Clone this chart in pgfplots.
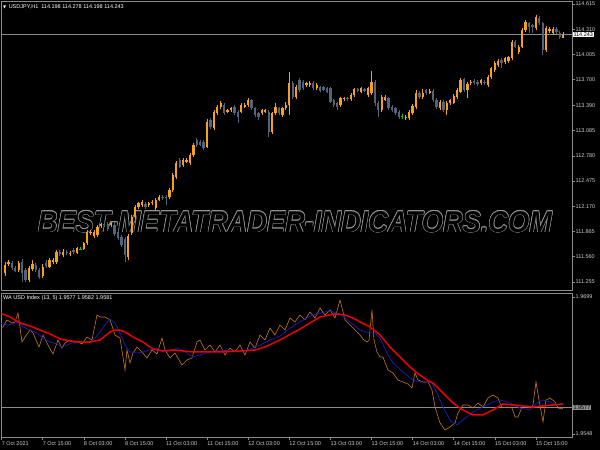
\documentclass[border=0pt]{standalone}
\usepackage{pgfplots}
\pgfplotsset{compat=1.18}
\usepackage{pgfplotstable}
\usepackage{graphicx}
\usepackage{fontspec}
\setmainfont{Liberation Sans}
\newfontfamily\djv{DejaVu Sans}

\definecolor{upc}{RGB}{245,160,30}
\definecolor{dnc}{RGB}{82,100,122}
\definecolor{dojic}{RGB}{0,200,0}
\definecolor{axgray}{RGB}{140,140,140}
\definecolor{txt}{RGB}{205,205,205}
\definecolor{wm}{RGB}{150,150,150}
\definecolor{wao}{RGB}{200,120,30}
\definecolor{wab}{RGB}{30,30,190}
\definecolor{war}{RGB}{235,0,0}

\newcommand{\mt}{\fontsize{5.5}{6}\selectfont}
\newcommand{\wmtext}{\resizebox{514pt}{21pt}{\fontsize{25}{25}\selectfont\bfseries\itshape BEST-METATRADER-INDICATORS.COM}}

% USDJPY H1 candles: bar index, open, high, low, close
\pgfplotstableread{
i o h l c
0 111.359 111.495 111.326 111.459
1 111.468 111.520 111.447 111.492
4 111.399 111.508 111.375 111.480
7 111.278 111.447 111.254 111.419
8 111.407 111.520 111.387 111.471
11 111.326 111.471 111.302 111.439
13 111.439 111.544 111.423 111.520
14 111.495 111.544 111.471 111.520
15 111.492 111.641 111.471 111.620
17 111.580 111.647 111.556 111.620
19 111.589 111.628 111.568 111.608
21 111.608 111.677 111.592 111.661
23 111.653 111.737 111.635 111.722
24 111.722 111.882 111.701 111.862
25 111.842 111.888 111.822 111.862
26 111.810 111.888 111.786 111.862
27 111.822 111.943 111.798 111.922
28 111.925 111.967 111.907 111.949
31 111.943 111.985 111.919 111.967
36 111.556 111.834 111.520 111.810
37 111.846 112.064 111.822 112.040
38 112.040 112.185 112.015 112.160
39 112.160 112.221 112.136 112.203
40 112.185 112.245 112.160 112.221
42 112.185 112.227 112.166 112.205
43 112.205 112.245 112.185 112.224
44 112.145 112.269 112.124 112.245
45 112.245 112.305 112.227 112.285
48 112.285 112.390 112.263 112.366
49 112.366 112.571 112.342 112.547
50 112.527 112.717 112.505 112.689
52 112.668 112.753 112.644 112.729
53 112.708 112.747 112.692 112.729
54 112.689 112.813 112.668 112.789
55 112.789 112.934 112.765 112.910
59 112.889 113.224 112.868 113.192
61 113.116 113.339 113.091 113.313
62 113.293 113.394 113.273 113.373
63 113.373 113.436 113.351 113.414
65 113.313 113.351 113.297 113.333
66 113.333 113.369 113.315 113.354
69 113.313 113.412 113.291 113.394
70 113.373 113.412 113.357 113.394
71 113.394 113.482 113.369 113.454
75 113.293 113.351 113.273 113.333
76 113.313 113.351 113.297 113.333
78 113.071 113.315 113.049 113.293
79 113.293 113.421 113.273 113.373
81 113.273 113.375 113.249 113.354
82 113.354 113.424 113.333 113.394
83 113.394 113.796 113.273 113.656
85 113.494 113.635 113.472 113.615
88 113.635 113.672 113.617 113.656
89 113.635 113.684 113.617 113.663
91 113.595 113.654 113.575 113.635
98 113.394 113.496 113.375 113.475
99 113.463 113.490 113.446 113.475
101 113.463 113.533 113.442 113.514
102 113.514 113.599 113.496 113.583
104 113.554 113.611 113.539 113.595
106 113.514 113.611 113.496 113.595
107 113.535 113.808 113.514 113.675
110 113.333 113.514 113.309 113.494
111 113.454 113.514 113.436 113.494
117 113.233 113.273 113.212 113.252
118 113.233 113.333 113.212 113.313
119 113.293 113.406 113.273 113.381
120 113.366 113.575 113.345 113.542
122 113.494 113.587 113.472 113.542
124 113.542 113.587 113.521 113.566
127 113.354 113.454 113.333 113.433
129 113.333 113.442 113.273 113.421
130 113.414 113.472 113.394 113.454
131 113.421 113.521 113.400 113.502
132 113.494 113.599 113.472 113.575
133 113.554 113.720 113.533 113.696
135 113.575 113.672 113.478 113.647
136 113.656 113.696 113.635 113.675
139 113.656 113.714 113.635 113.696
141 113.635 113.756 113.617 113.736
142 113.736 113.859 113.714 113.837
143 113.817 113.920 113.793 113.898
144 113.877 113.950 113.853 113.929
146 113.917 113.980 113.895 113.958
147 113.929 113.992 113.907 113.970
148 113.958 114.179 113.938 114.159
150 114.038 114.119 114.016 114.098
151 114.098 114.325 114.077 114.300
152 114.300 114.421 114.276 114.401
155 114.321 114.482 114.300 114.461
158 114.059 114.343 114.040 114.321
159 114.292 114.331 114.270 114.309
160 114.260 114.331 114.240 114.309
163 114.198 114.278 114.198 114.243
}\upbars

\pgfplotstableread{
i o h l c
2 111.480 111.508 111.399 111.419
3 111.419 111.447 111.375 111.390
5 111.499 111.532 111.257 111.359
6 111.399 111.423 111.254 111.278
9 111.459 111.483 111.375 111.399
10 111.399 111.423 111.290 111.318
12 111.487 111.520 111.423 111.447
16 111.620 111.641 111.568 111.592
18 111.620 111.641 111.580 111.601
20 111.641 111.659 111.592 111.616
29 111.961 111.979 111.919 111.937
30 111.961 111.985 111.870 111.894
32 111.943 111.967 111.810 111.834
33 111.858 111.882 111.761 111.786
34 111.798 111.822 111.677 111.701
35 111.774 111.798 111.495 111.580
41 112.197 112.221 112.136 112.160
46 112.285 112.305 112.245 112.266
47 112.285 112.311 112.185 112.269
51 112.729 112.753 112.626 112.648
56 112.970 112.995 112.886 112.910
57 112.950 112.970 112.892 112.910
58 112.950 112.970 112.850 112.870
60 113.212 113.242 113.103 113.128
64 113.394 113.418 113.273 113.293
67 113.373 113.394 113.273 113.293
68 113.313 113.333 113.176 113.252
72 113.454 113.472 113.333 113.354
73 113.354 113.375 113.249 113.273
74 113.293 113.315 113.212 113.252
77 113.313 113.333 113.010 113.071
80 113.354 113.375 113.273 113.293
84 113.656 113.678 113.472 113.494
86 113.696 113.720 113.551 113.575
87 113.675 113.696 113.575 113.595
90 113.663 113.684 113.575 113.595
92 113.608 113.623 113.545 113.566
93 113.608 113.623 113.557 113.575
94 113.595 113.611 113.533 113.554
95 113.595 113.611 113.412 113.433
96 113.454 113.472 113.369 113.394
97 113.414 113.430 113.333 113.373
100 113.475 113.490 113.442 113.463
103 113.583 113.599 113.551 113.566
105 113.583 113.599 113.551 113.566
108 113.675 113.696 113.381 113.414
109 113.414 113.436 113.249 113.333
112 113.475 113.496 113.333 113.354
113 113.373 113.394 113.309 113.333
114 113.354 113.375 113.273 113.293
115 113.313 113.333 113.230 113.252
121 113.535 113.557 113.472 113.494
123 113.575 113.593 113.514 113.535
125 113.566 113.587 113.430 113.454
126 113.454 113.478 113.345 113.366
128 113.433 113.454 113.309 113.333
134 113.704 113.726 113.551 113.575
137 113.687 113.708 113.635 113.656
138 113.675 113.696 113.623 113.647
140 113.675 113.696 113.635 113.656
145 113.938 113.956 113.841 113.905
149 114.159 114.179 114.077 114.098
153 114.381 114.403 114.264 114.340
154 114.361 114.379 114.264 114.340
156 114.442 114.464 114.361 114.381
157 114.381 114.403 113.998 114.059
161 114.309 114.331 114.258 114.280
162 114.268 114.288 114.192 114.212
}\dnbars

\pgfplotstableread{
i o h l c
22 111.649 111.671 111.635 111.656
116 113.258 113.285 113.224 113.265
}\dojibars

% WA USD Index lines
\pgfplotstableread{
i v
-1.46 1.96814
1.46 1.96770
4.38 1.96704
7.30 1.96670
10.22 1.96626
13.14 1.96582
16.06 1.96527
18.98 1.96505
21.90 1.96494
24.82 1.96494
27.74 1.96516
30.66 1.96604
32.12 1.96626
33.58 1.96626
35.04 1.96604
37.37 1.96549
40.29 1.96494
43.21 1.96417
46.13 1.96395
49.05 1.96406
51.97 1.96395
54.89 1.96384
56.93 1.96384
62.77 1.96384
68.61 1.96395
72.99 1.96406
75.91 1.96439
80.29 1.96516
86.13 1.96637
91.97 1.96770
96.35 1.96803
99.27 1.96792
102.19 1.96748
103.65 1.96715
106.57 1.96660
109.49 1.96571
112.41 1.96439
115.33 1.96329
118.25 1.96219
120.29 1.96153
123.21 1.96075
124.96 1.96042
127.88 1.95932
130.80 1.95822
133.72 1.95745
136.64 1.95690
139.56 1.95690
142.48 1.95745
145.40 1.95811
148.32 1.95800
151.24 1.95789
154.16 1.95778
157.08 1.95789
160.00 1.95800
162.92 1.95810
}\redline

\pgfplotstableread{
i v
-1.46 1.96704
0.58 1.96682
2.34 1.96693
3.80 1.96715
5.26 1.96660
7.30 1.96626
9.34 1.96593
11.09 1.96538
13.14 1.96494
15.18 1.96472
16.64 1.96439
18.10 1.96461
19.56 1.96483
21.90 1.96494
24.82 1.96494
26.28 1.96538
27.74 1.96604
29.20 1.96682
30.66 1.96748
32.12 1.96704
33.58 1.96593
35.04 1.96461
36.50 1.96384
38.54 1.96373
40.29 1.96384
42.34 1.96406
44.38 1.96428
46.13 1.96384
48.18 1.96395
50.22 1.96428
51.68 1.96406
53.14 1.96373
54.89 1.96329
56.93 1.96351
59.85 1.96384
62.77 1.96406
65.69 1.96395
68.61 1.96384
71.53 1.96417
74.45 1.96461
77.37 1.96516
80.29 1.96560
83.21 1.96648
86.13 1.96715
89.05 1.96781
91.97 1.96814
94.89 1.96836
97.81 1.96803
100.73 1.96715
103.65 1.96626
106.57 1.96593
108.03 1.96593
109.49 1.96538
111.53 1.96373
113.28 1.96263
116.20 1.96164
119.12 1.96075
121.17 1.96053
123.21 1.96053
124.67 1.96042
126.13 1.95932
127.88 1.95778
129.93 1.95635
131.97 1.95580
133.72 1.95635
136.64 1.95723
139.56 1.95778
142.48 1.95833
144.53 1.95855
147.45 1.95822
150.36 1.95767
153.28 1.95745
155.33 1.95822
157.08 1.95855
159.12 1.95833
161.17 1.95800
162.92 1.95820
}\blueline

\pgfplotstableread{
i v
-1.46 1.96648
-0.58 1.96660
0.58 1.96737
2.04 1.96704
2.92 1.96715
3.80 1.96814
4.96 1.96494
5.84 1.96549
7.30 1.96626
8.18 1.96593
9.93 1.96439
11.09 1.96571
12.55 1.96461
14.01 1.96362
15.47 1.96516
16.64 1.96428
17.52 1.96483
18.98 1.96516
20.44 1.96483
21.31 1.96494
22.48 1.96472
23.94 1.96549
25.40 1.96516
26.86 1.96792
27.74 1.96770
29.20 1.96770
30.66 1.96737
32.12 1.96571
33.58 1.96538
35.04 1.96186
35.62 1.96406
36.50 1.96263
37.37 1.96373
38.54 1.96439
40.00 1.96384
41.46 1.96318
42.92 1.96406
44.38 1.96362
45.84 1.96538
46.72 1.96406
48.18 1.96318
49.64 1.96373
51.68 1.96241
53.14 1.96296
54.60 1.96318
56.06 1.96494
56.93 1.96516
58.39 1.96406
59.85 1.96461
61.31 1.96384
62.77 1.96461
64.23 1.96351
65.69 1.96428
67.15 1.96384
68.61 1.96461
70.07 1.96351
71.53 1.96494
72.99 1.96428
74.45 1.96571
75.91 1.96516
77.37 1.96648
78.83 1.96571
80.29 1.96682
81.75 1.96626
83.21 1.96759
84.67 1.96715
86.13 1.96792
87.59 1.96737
89.05 1.96825
90.51 1.96759
91.97 1.96869
93.43 1.96792
94.89 1.96847
96.35 1.96759
97.81 1.96957
99.27 1.96737
100.73 1.96682
102.19 1.96626
103.65 1.96571
104.53 1.96527
105.69 1.96494
106.28 1.96516
107.15 1.96847
107.74 1.96516
108.61 1.96384
109.49 1.96329
110.36 1.96329
111.82 1.96186
113.28 1.96153
114.74 1.96075
116.20 1.96053
117.66 1.96031
118.83 1.95987
119.71 1.96153
120.58 1.96075
122.04 1.96053
123.50 1.96053
124.67 1.95965
125.55 1.95778
127.01 1.95602
128.47 1.95524
129.93 1.95558
131.39 1.95602
132.26 1.95712
133.72 1.95800
135.18 1.95800
136.64 1.95767
138.10 1.95822
139.56 1.95778
141.02 1.95877
142.48 1.95910
143.94 1.95877
145.11 1.95767
146.57 1.95778
148.03 1.95767
148.91 1.95668
149.78 1.95668
150.95 1.95778
152.41 1.95789
153.28 1.95767
154.16 1.95800
155.04 1.96053
155.91 1.95855
157.08 1.95613
157.96 1.95855
159.12 1.95877
160.58 1.95833
161.46 1.95767
162.63 1.95756
162.92 1.95770
}\orangeline

\pgfplotsset{
  mtaxis/.style={
    scale only axis, width=571pt,
    xmin=-1.168, xmax=165.55,
    axis line style={draw=axgray, line width=0.8pt},
    tick style={draw=axgray, line width=0.5pt},
    tick align=outside, major tick length=2.5pt,
    ytick pos=right, yticklabel pos=right,
    yticklabel style={font=\mt, text=txt, anchor=west, inner sep=0pt, xshift=1pt},
    clip mode=individual,
  },
  wick/.style={forget plot, draw=#1, line width=0.7pt,
    quiver={u=0, v=\thisrow{h}-\thisrow{l}}},
  body/.style={forget plot, draw=#1, line width=2.3pt,
    quiver={u=0, v=\thisrow{c}-\thisrow{o}}},
}

\begin{document}
\begin{tikzpicture}
\path[use as bounding box] (0pt,0pt) rectangle (600pt,-450pt);
\fill[black] (0pt,0pt) rectangle (600pt,-450pt);

% watermark: thin grey outline, hollow letters
\foreach \dx/\dy in {0.6/0,-0.6/0,0/0.6,0/-0.6,0.42/0.42,-0.42/0.42,0.42/-0.42,-0.42/-0.42}
  \node[text=wm, inner sep=0pt] at ([shift={(\dx pt,\dy pt)}]295pt,-222pt) {\wmtext};
\node[text=black, inner sep=0pt] at (295pt,-222pt) {\wmtext};

% price panel
\begin{axis}[mtaxis,
  at={(1pt,-1pt)}, anchor=north west, height=289pt,
  ymin=111.157, ymax=114.651,
  xtick=\empty,
  ytick={114.615,114.310,114.005,113.700,113.390,113.085,112.780,112.475,112.170,111.865,111.560,111.255},
  yticklabels={114.615,114.310,114.005,113.700,113.390,113.085,112.780,112.475,112.170,111.865,111.560,111.255},
]
\addplot[draw=axgray, line width=0.5pt, forget plot] coordinates {(-5,114.243) (170,114.243)};

\addplot[wick=upc] table[x=i, y=l] {\upbars};
\addplot[wick=dnc] table[x=i, y=l] {\dnbars};
\addplot[wick=dojic] table[x=i, y=l] {\dojibars};

\addplot[body=upc] table[x=i, y=o] {\upbars};
\addplot[body=dnc] table[x=i, y=o] {\dnbars};
\addplot[body=dojic] table[x=i, y=o] {\dojibars};

\node[fill=white, text=black, font=\mt, inner sep=0.8pt, anchor=west, xshift=0.5pt] at (axis cs:165.55,114.243) {114.243};
\end{axis}

% indicator panel
\begin{axis}[mtaxis,
  at={(1pt,-293pt)}, anchor=north west, height=144pt,
  ymin=1.95447, ymax=1.97034,
  ytick={1.9699,1.9548}, yticklabels={1.9699,1.9548},
  xtick={-1,11,23,35,47,59,71,83,95,107,119,131,143,155},
  xticklabels={7 Oct 2021,7 Oct 15:00,8 Oct 03:00,8 Oct 15:00,11 Oct 03:00,11 Oct 15:00,12 Oct 03:00,12 Oct 15:00,13 Oct 03:00,13 Oct 15:00,14 Oct 03:00,14 Oct 15:00,15 Oct 03:00,15 Oct 15:00},
  xtick pos=left,
  xticklabel style={font=\mt, text=txt, anchor=north west, inner sep=0pt, yshift=-1.5pt},
]
\addplot[draw=axgray, line width=0.5pt, forget plot] coordinates {(-5,1.9577) (170,1.9577)};
\addplot[draw=wao, line width=0.6pt] table[x=i, y=v] {\orangeline};
\addplot[draw=wab, line width=0.7pt] table[x=i, y=v] {\blueline};
\addplot[draw=war, line width=1.5pt] table[x=i, y=v] {\redline};
\node[fill=axgray, text=black, font=\mt, inner sep=0.8pt, anchor=west, xshift=0.5pt] at (axis cs:165.55,1.9577) {1.9577};
\end{axis}

\node[anchor=west, inner sep=0pt, text=white, font=\mt] at (3pt,-7pt)
  {{\djv\fontsize{4}{4}\selectfont ▼}\hspace{2.5pt}USDJPY,H1\hspace{3pt}114.198 114.278 114.198 114.243};
\node[anchor=west, inner sep=0pt, text=white, font=\mt] at (3pt,-298pt)
  {WA USD Index (13, 5) 1.9577 1.9582 1.9581};
\end{tikzpicture}
\end{document}
